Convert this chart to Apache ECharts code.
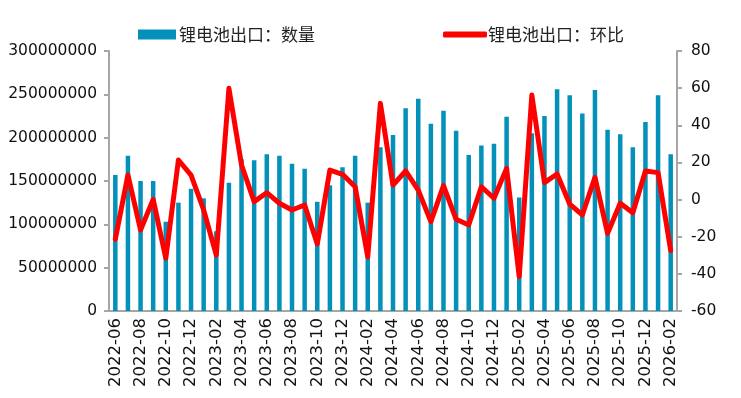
<!DOCTYPE html>
<html>
<head>
<meta charset="utf-8">
<script src="https://cdn.jsdelivr.net/npm/echarts@6/dist/echarts.min.js"></script>
<style>
  html, body { margin: 0; padding: 0; background: #fff; }
  #chart { width: 741px; height: 398px; }
</style>
</head>
<body>
<div id="chart"></div>
<script>
// months 2022-06 .. 2026-02
let months = [
    '2022-06','2022-07','2022-08','2022-09','2022-10','2022-11','2022-12',
    '2023-01','2023-02','2023-03','2023-04','2023-05','2023-06','2023-07','2023-08','2023-09','2023-10','2023-11','2023-12',
    '2024-01','2024-02','2024-03','2024-04','2024-05','2024-06','2024-07','2024-08','2024-09','2024-10','2024-11','2024-12',
    '2025-01','2025-02','2025-03','2025-04','2025-05','2025-06','2025-07','2025-08','2025-09','2025-10','2025-11','2025-12',
    '2026-01','2026-02'
];
let volume = [
    157000000, 179000000, 150000000, 150000000, 103000000, 125000000, 141000000,
    130000000, 92000000, 148000000, 175000000, 174000000, 181000000, 179000000, 170000000, 164000000, 126000000, 145000000, 166000000,
    179000000, 125000000, 189000000, 203000000, 234000000, 245000000, 216000000, 231000000, 208000000, 180000000, 191000000, 193000000,
    224000000, 131000000, 205000000, 225000000, 256000000, 249000000, 228000000, 255000000, 209000000, 204000000, 189000000, 218000000,
    249000000, 181000000
];
let mom = [
    -21.4, 13.2, -16.4, 0.1, -31.6, 21.3, 13.2,
    -5.6, -29.9, 59.9, 18.6, -1.1, 3.7, -2.0, -5.6, -2.9, -23.9, 15.9, 13.6,
    6.9, -30.8, 51.8, 7.8, 15.4, 5.1, -11.9, 7.5, -10.6, -13.7, 6.9, 0.7,
    16.8, -41.5, 56.3, 9.1, 13.8, -2.4, -8.3, 12.0, -18.2, -2.0, -7.1, 15.4,
    14.5, -27.5
];

let barName = '锂电池出口：数量';
let lineName = '锂电池出口：环比';
let axisGrey = '#A6A6A6';
let labelFont = 'DejaVu Sans, Noto Sans CJK SC, sans-serif';

let myChart = echarts.init(document.getElementById('chart'));
let option = {
    animation: false,
    textStyle: { fontFamily: labelFont },
    legend: [
        {
            data: [barName],
            left: 133, top: 21,
            itemWidth: 38, itemHeight: 10,
            itemGap: 5,
            icon: 'rect',
            textStyle: { fontSize: 17, color: '#222', fontFamily: 'Noto Sans CJK SC', padding: [0, 0, 0, -2] }
        },
        {
            data: [{ name: lineName, icon: 'roundRect', itemStyle: { color: '#FF0000' } }],
            left: 438, top: 21,
            itemWidth: 44, itemHeight: 6,
            textStyle: { fontSize: 17, color: '#222', fontFamily: 'Noto Sans CJK SC', padding: [0, 0, 0, -4] }
        }
    ],
    grid: { left: 109, right: 64, top: 51, bottom: 87 },
    xAxis: {
        type: 'category',
        data: months,
        axisLine: { lineStyle: { color: axisGrey, width: 2 } },
        axisTick: { interval: 1, length: 5, lineStyle: { color: axisGrey, width: 2 } },
        axisLabel: { interval: 1, rotate: 90, fontSize: 16.5, color: '#111', margin: 7 }
    },
    yAxis: [
        {
            type: 'value', min: 0, max: 300000000, interval: 50000000,
            axisLine: { show: true, lineStyle: { color: axisGrey, width: 2 } },
            axisTick: { show: true, length: 5, lineStyle: { color: axisGrey, width: 2 } },
            axisLabel: { fontSize: 15.5, color: '#111', margin: 12, formatter: function (v) { return String(v); } },
            splitLine: { show: false }
        },
        {
            type: 'value', min: -60, max: 80, interval: 20,
            axisLine: { show: true, lineStyle: { color: axisGrey, width: 2 } },
            axisTick: { show: true, length: 5, lineStyle: { color: axisGrey, width: 2 } },
            axisLabel: { fontSize: 15.5, color: '#111', margin: 14 },
            splitLine: { show: false }
        }
    ],
    series: [
        {
            name: barName, type: 'bar', data: volume,
            barWidth: 4.5,
            itemStyle: { color: '#0391BA' }
        },
        {
            name: lineName, type: 'line', yAxisIndex: 1, data: mom,
            showSymbol: false, symbol: 'none',
            lineStyle: { color: '#FF0000', width: 5, join: 'round', cap: 'round' },
            itemStyle: { color: '#FF0000' }
        }
    ]
};

option && myChart.setOption(option);
</script>
</body>
</html>
